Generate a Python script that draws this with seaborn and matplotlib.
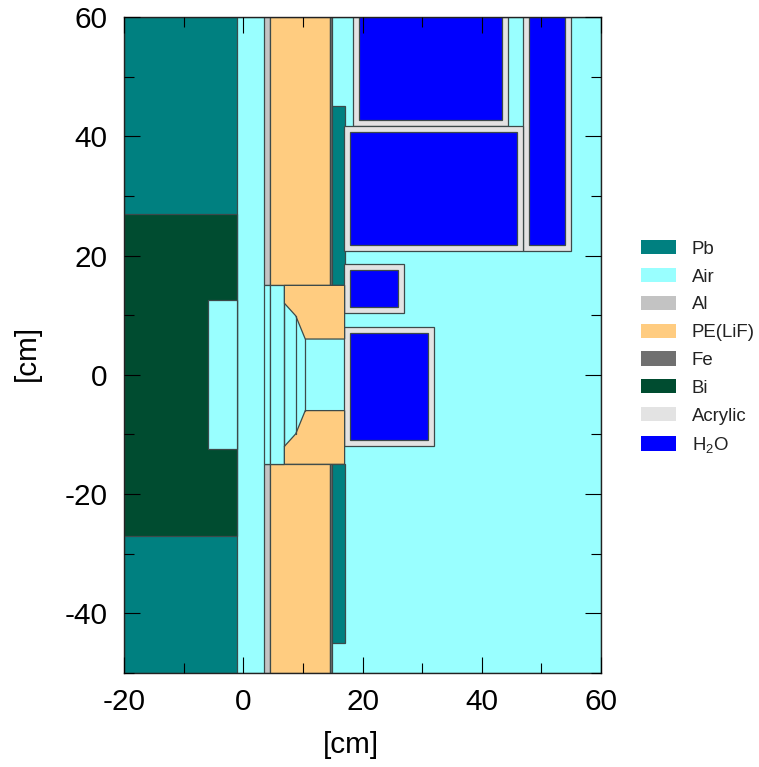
import matplotlib
matplotlib.use('Agg')
import matplotlib.pyplot as plt
from matplotlib.patches import Patch
from matplotlib.ticker import MultipleLocator
import seaborn as sns

materials = ['Pb', 'Air', 'Al', 'PE(LiF)', 'Fe', 'Bi', 'Acrylic', 'H2O']
legend_labels = ['Pb', 'Air', 'Al', 'PE(LiF)', 'Fe', 'Bi', 'Acrylic', 'H$_{2}$O']
colores = ['#008080', '#99FFFF', '#C3C3C3', '#FFCC80', '#707070', '#004C30', '#E3E3E3', '#0000FF']

x_ticks = [-20, 0, 20, 40, 60]
y_ticks = [-40, -20, 0, 20, 40, 60]

# (material, x0, x1, y0, y1), in cm, back to front
bloques = [
    ('Air', -20, 60, -50, 60),
    ('Pb', -20, -1, -50, 60),
    ('Bi', -20, -1, -27, 27),
    ('Air', -5.9, -1, -12.5, 12.5),
    ('Al', 3.5, 4.5, 15, 60),
    ('Al', 3.5, 4.5, -50, -15),
    ('PE(LiF)', 4.5, 14.5, 15, 60),
    ('PE(LiF)', 4.5, 14.5, -50, -15),
    ('Fe', 14.5, 14.9, 15, 60),
    ('Fe', 14.5, 14.9, -50, -15),
    ('Pb', 14.9, 17, 15, 45),
    ('Pb', 14.9, 17, -45, -15),
    ('Air', 3.5, 4.5, -15, 15),
    ('Air', 4.5, 6.9, -15, 15),
    # tanques
    ('Acrylic', 18.4, 44.4, 41.8, 60),
    ('H2O', 19.4, 43.4, 42.8, 60),
    ('Acrylic', 46.9, 54.9, 20.8, 60),
    ('H2O', 47.9, 53.9, 21.8, 60),
    ('Acrylic', 16.9, 46.9, 20.8, 41.8),
    ('H2O', 17.9, 45.9, 21.8, 40.8),
    ('Acrylic', 16.9, 26.9, 10.4, 18.5),
    ('H2O', 17.9, 25.9, 11.4, 17.5),
    ('Acrylic', 16.9, 32, -12, 8),
    ('H2O', 17.9, 31, -11, 7),
]

# colimador de PE, parte de cima e de baixo
colim_x = [6.9, 17, 17, 10.4, 8.8, 6.9]
colim_y = [15, 15, 6, 6, 9.9, 12]
colim_baixo_y = [-15, -15, -6, -6, -9.9, -12]

# degraus internos do colimador
degrau_x = [6.9, 8.8, 10.4]
degrau_y = [12, 9.9, 6]

sns.set_theme(style='ticks')
plt.rcParams['font.family'] = ['Liberation Sans', 'DejaVu Sans']
plt.rcParams['axes.unicode_minus'] = False
plt.rcParams['axes.axisbelow'] = False
plt.rcParams['mathtext.default'] = 'regular'

paleta = dict(zip(materials, sns.color_palette(colores)))
cor_borda = '#3c4a4a'

fig = plt.figure(figsize=(7.59, 7.67), dpi=100)
ax = fig.add_axes([124 / 759, 1 - 673 / 767, 477 / 759, 656 / 767])

for mat, x0, x1, y0, y1 in bloques:
    ax.fill([x0, x1, x1, x0], [y0, y0, y1, y1], facecolor=paleta[mat],
            edgecolor=cor_borda, linewidth=0.9)

ax.fill(colim_x, colim_y, facecolor=paleta['PE(LiF)'], edgecolor=cor_borda, linewidth=0.9)
ax.fill(colim_x, colim_baixo_y, facecolor=paleta['PE(LiF)'], edgecolor=cor_borda, linewidth=0.9)

for xd, yd in zip(degrau_x, degrau_y):
    sns.lineplot(x=[xd, xd], y=[-yd, yd], sort=False, estimator=None, ax=ax,
                 color=cor_borda, linewidth=0.9)

ax.set_xlim(-20, 60)
ax.set_ylim(-50, 60)
ax.xaxis.set_major_locator(MultipleLocator(20))
ax.xaxis.set_minor_locator(MultipleLocator(10))
ax.yaxis.set_major_locator(MultipleLocator(20))
ax.yaxis.set_minor_locator(MultipleLocator(10))
ax.set_xticks(x_ticks)
ax.set_yticks(y_ticks)
ax.tick_params(which='major', direction='in', top=True, right=True, length=11.5, width=0.8,
               color='black', labelsize=21.4, labelcolor='black')
ax.tick_params(which='minor', direction='in', top=True, right=True, length=7.2, width=0.8, color='black')
ax.tick_params(axis='x', which='major', pad=10.5)
ax.tick_params(axis='y', which='major', pad=12)
ax.set_xlabel('[cm]', fontsize=21.4, color='black')
ax.set_ylabel('[cm]', fontsize=21.4, color='black')
ax.xaxis.set_label_coords(227 / 477, -(745 - 673) / 656, transform=ax.transAxes)
ax.xaxis.label.set_verticalalignment('center')
ax.yaxis.set_label_coords(-(124 - 27) / 477, 0.488, transform=ax.transAxes)
ax.yaxis.label.set_verticalalignment('center')
sns.despine(ax=ax, top=False, right=False)
for lado in ax.spines.values():
    lado.set_linewidth(1.0)
    lado.set_color('#222222')

handles = [Patch(facecolor=paleta[m], edgecolor='none') for m in materials]
fig.legend(handles, legend_labels, loc='center left', bbox_to_anchor=(641 / 759, 1 - 347.5 / 767),
           frameon=False, fontsize=13.4, handlelength=1.87, handleheight=0.8,
           labelspacing=0.55, handletextpad=0.85, borderpad=0, borderaxespad=0, labelcolor='#222222')

fig.savefig('out.png', dpi=100)
